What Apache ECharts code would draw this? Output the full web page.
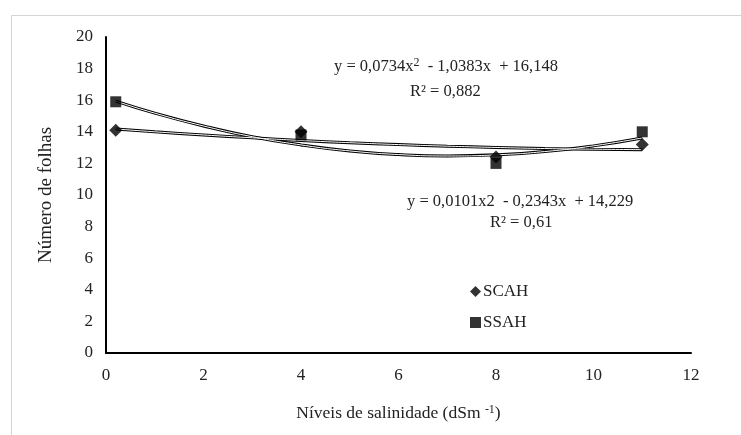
<!DOCTYPE html>
<html>
<head>
<meta charset="utf-8">
<script src="https://cdn.jsdelivr.net/npm/echarts@6/dist/echarts.min.js"></script>
<style>html,body{margin:0;padding:0;background:#fff}#c{width:741px;height:435px}</style>
</head>
<body>
<div id="c"></div>
<script>
var xLevels = [0.2, 4, 8, 11];
var scahValues = [14.1, 14.0, 12.4, 13.2];
var ssahValues = [15.9, 13.8, 12.0, 14.0];
var trendX = [0.2, 1, 2, 3, 4, 5, 6, 7, 8, 9, 10, 11];
var ssahTrend = [15.94, 15.18, 14.37, 13.69, 13.17, 12.79, 12.56, 12.47, 12.54, 12.75, 13.11, 13.61];
var scahTrend = [14.18, 14.00, 13.80, 13.62, 13.45, 13.31, 13.19, 13.09, 13.01, 12.94, 12.90, 12.87];
var seriesNames = ['SCAH', 'SSAH'];

function pairs(xs, ys) { return xs.map(function (x, i) { return [x, ys[i]]; }); }
var FONT = '"Liberation Serif", "DejaVu Serif", serif';

function trendSeries(ys, color, w, z) {
  return { type: 'line', data: pairs(trendX, ys), smooth: true, showSymbol: false, symbol: 'none',
    lineStyle: { color: color, width: w }, silent: true, z: z, legendHoverLink: false };
}

var chart = echarts.init(document.getElementById('c'), null, { renderer: 'canvas' });
chart.setOption({
  backgroundColor: '#ffffff',
  animation: false,
  textStyle: { fontFamily: FONT },
  grid: { left: 106, right: 50, top: 37, bottom: 82, containLabel: false },
  xAxis: {
    type: 'value', min: 0, max: 12, interval: 2,
    axisLine: { show: true, lineStyle: { color: '#000', width: 2 } },
    axisTick: { show: false },
    splitLine: { show: false },
    axisLabel: { color: '#222', fontSize: 17, fontFamily: FONT, margin: 14 },
    name: '{a|Níveis de salinidade (dSm }{s|-1}{a|)}',
    nameLocation: 'middle', nameGap: 51,
    nameTextStyle: { rich: { a: { fontSize: 17.5, fontFamily: FONT, color: '#222' }, s: { fontSize: 12, fontFamily: FONT, color: '#222', verticalAlign: 'top', padding: [0, 0, 6, 0] } } }
  },
  yAxis: {
    type: 'value', min: 0, max: 20, interval: 2,
    axisLine: { show: true, lineStyle: { color: '#000', width: 2 } },
    axisTick: { show: false },
    splitLine: { show: false },
    axisLabel: { color: '#222', fontSize: 17, fontFamily: FONT, margin: 13 },
    name: 'Número de folhas', nameLocation: 'middle', nameGap: 50, nameRotate: 90,
    nameTextStyle: { fontSize: 19, fontFamily: FONT, color: '#222' }
  },
  legend: {
    data: [
      { name: seriesNames[0], itemStyle: { color: '#000' } },
      { name: seriesNames[1], itemStyle: { color: '#000' } }
    ],
    orient: 'vertical', left: 465, top: 278, itemGap: 14,
    itemWidth: 11, itemHeight: 11,
    textStyle: { fontSize: 17, fontFamily: FONT, color: '#222', padding: [0, 0, 0, -3] }
  },
  graphic: [
    { type: 'rect', left: 9, top: 13, shape: { width: 760, height: 440 }, style: { fill: 'none', stroke: '#d4d4d4', lineWidth: 1 }, silent: true, z: -1 },
    { type: 'text', left: 334, top: 57, style: { text: '{a|y = 0,0734x}{s|2}{a|  - 1,0383x  + 16,148}', rich: { a: { fontSize: 16.5, fontFamily: FONT, fill: '#222' }, s: { fontSize: 12, fontFamily: FONT, fill: '#222', verticalAlign: 'top', padding: [0, 0, 7, 0] } } } },
    { type: 'text', left: 410, top: 83, style: { text: 'R² = 0,882', fontSize: 16.5, fontFamily: FONT, fill: '#222' } },
    { type: 'text', left: 407, top: 193, style: { text: 'y = 0,0101x2  - 0,2343x  + 14,229', fontSize: 16.5, fontFamily: FONT, fill: '#222' } },
    { type: 'text', left: 490, top: 214, style: { text: 'R² = 0,61', fontSize: 16.5, fontFamily: FONT, fill: '#222' } }
  ],
  series: [
    trendSeries(ssahTrend, '#000', 3, 2),
    trendSeries(ssahTrend, '#fff', 1, 3),
    trendSeries(scahTrend, '#000', 3, 2),
    trendSeries(scahTrend, '#fff', 1, 3),
    { name: 'SCAH', type: 'scatter', data: pairs(xLevels, scahValues), symbol: 'diamond', symbolSize: 13, itemStyle: { color: '#000' }, z: 5 },
    { name: 'SSAH', type: 'scatter', data: pairs(xLevels, ssahValues), symbol: 'rect', symbolSize: 11, itemStyle: { color: '#000' }, z: 5 }
  ]
});
</script>
</body>
</html>
